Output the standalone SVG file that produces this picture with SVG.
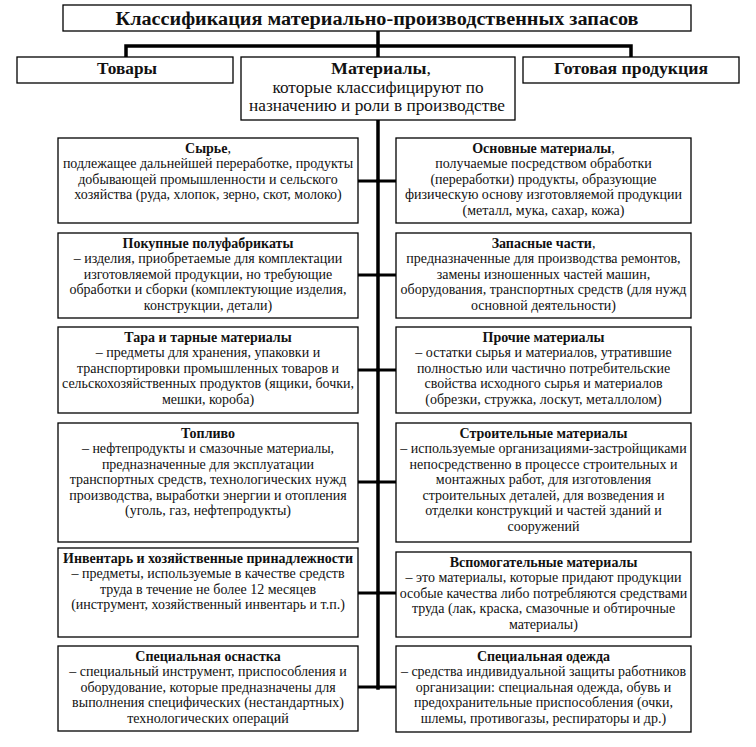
<svg xmlns="http://www.w3.org/2000/svg" width="756" height="747" viewBox="0 0 756 747">
<style>
.box{fill:#fff;stroke:#000;stroke-width:1.3}
.h{font-family:"Liberation Serif","Times New Roman",serif;font-weight:bold;font-size:14px;fill:#111;text-anchor:middle}
.t{font-family:"Liberation Serif","Times New Roman",serif;font-size:14px;fill:#111;text-anchor:middle}
.n{font-weight:normal}
.top{font-size:16px}
.c{stroke:#000;fill:none;stroke-linecap:square}
.thick{stroke-width:3.5}
.br{stroke-width:3}
</style>
<rect width="756" height="747" fill="#fff"/>

<g id="connectors">
  <path class="c thick" d="M378 31V46M126 46H631M126 46V57M631 46V57M378 46V57"/>
  <path class="c thick" d="M378 120V688" stroke-width="4"/>
  <path class="c br" d="M358 181H378M358 275H378M358 370H378M358 482H378M358 593H378M358 687H378"/>
  <path class="c br" d="M378 181H396M378 275H396M378 370H396M378 482H396M378 593H396M378 687H396"/>
</g>

<g id="title">
  <rect class="box" x="63" y="5" width="628" height="26"/>
  <text class="h" x="377" y="25" style="font-size:18px" textLength="523" lengthAdjust="spacingAndGlyphs">Классификация материально-производственных запасов</text>
</g>
<g id="tovary">
  <rect class="box" x="17" y="57" width="216" height="26"/>
  <text class="h top" x="127" y="74" textLength="60" lengthAdjust="spacingAndGlyphs">Товары</text>
</g>
<g id="materialy">
  <rect class="box" x="241" y="57" width="274" height="63"/>
  <text class="h top" x="381" y="74" textLength="100" lengthAdjust="spacingAndGlyphs">Материалы<tspan class="n">,</tspan></text>
  <text class="t top" x="378" y="92.5" textLength="211" lengthAdjust="spacingAndGlyphs">которые классифицируют по</text>
  <text class="t top" x="377" y="111" textLength="256" lengthAdjust="spacingAndGlyphs">назначению и роли в производстве</text>
</g>
<g id="gotovaya">
  <rect class="box" x="523" y="57" width="216" height="26"/>
  <text class="h top" x="631" y="74" textLength="154" lengthAdjust="spacingAndGlyphs">Готовая продукция</text>
</g>

<!-- Left column -->
<g id="syrye">
  <rect class="box" x="58" y="138" width="300" height="85"/>
  <text class="h" x="208" y="152.5">Сырье<tspan class="n">,</tspan></text>
  <text class="t" x="208" y="168">подлежащее дальнейшей переработке, продукты</text>
  <text class="t" x="208" y="183.5">добывающей промышленности и сельского</text>
  <text class="t" x="208" y="199">хозяйства (руда, хлопок, зерно, скот, молоко)</text>
</g>
<g id="pokupnye">
  <rect class="box" x="58" y="233" width="300" height="85"/>
  <text class="h" x="208" y="247.5">Покупные полуфабрикаты</text>
  <text class="t" x="208" y="263">– изделия, приобретаемые для комплектации</text>
  <text class="t" x="208" y="278.5">изготовляемой продукции, но требующие</text>
  <text class="t" x="208" y="294">обработки и сборки (комплектующие изделия,</text>
  <text class="t" x="208" y="309.5">конструкции, детали)</text>
</g>
<g id="tara">
  <rect class="box" x="58" y="327" width="300" height="86"/>
  <text class="h" x="208" y="341.5">Тара и тарные материалы</text>
  <text class="t" x="208" y="357">– предметы для хранения, упаковки и</text>
  <text class="t" x="208" y="372.5">транспортировки промышленных товаров и</text>
  <text class="t" x="208" y="388">сельскохозяйственных продуктов (ящики, бочки,</text>
  <text class="t" x="208" y="403.5">мешки, короба)</text>
</g>
<g id="toplivo">
  <rect class="box" x="58" y="423" width="300" height="119"/>
  <text class="h" x="208" y="437.5">Топливо</text>
  <text class="t" x="208" y="453">– нефтепродукты и смазочные материалы,</text>
  <text class="t" x="208" y="468.5">предназначенные для эксплуатации</text>
  <text class="t" x="208" y="484">транспортных средств, технологических нужд</text>
  <text class="t" x="208" y="499.5">производства, выработки энергии и отопления</text>
  <text class="t" x="208" y="515">(уголь, газ, нефтепродукты)</text>
</g>
<g id="inventar">
  <rect class="box" x="58" y="548" width="300" height="89"/>
  <text class="h" x="208" y="562.5">Инвентарь и хозяйственные принадлежности</text>
  <text class="t" x="208" y="578">– предметы, используемые в качестве средств</text>
  <text class="t" x="208" y="593.5">труда в течение не более 12 месяцев</text>
  <text class="t" x="208" y="609">(инструмент, хозяйственный инвентарь и т.п.)</text>
</g>
<g id="osnastka">
  <rect class="box" x="58" y="646" width="300" height="85"/>
  <text class="h" x="208" y="660.5">Специальная оснастка</text>
  <text class="t" x="208" y="676">– специальный инструмент, приспособления и</text>
  <text class="t" x="208" y="691.5">оборудование, которые предназначены для</text>
  <text class="t" x="208" y="707">выполнения специфических (нестандартных)</text>
  <text class="t" x="208" y="722.5">технологических операций</text>
</g>

<!-- Right column -->
<g id="osnovnye">
  <rect class="box" x="396" y="138" width="295" height="85"/>
  <text class="h" x="543.5" y="152.5">Основные материалы<tspan class="n">,</tspan></text>
  <text class="t" x="543.5" y="168">получаемые посредством обработки</text>
  <text class="t" x="543.5" y="183.5">(переработки) продукты, образующие</text>
  <text class="t" x="543.5" y="199">физическую основу изготовляемой продукции</text>
  <text class="t" x="543.5" y="214.5">(металл, мука, сахар, кожа)</text>
</g>
<g id="zapasnye">
  <rect class="box" x="396" y="233" width="295" height="85"/>
  <text class="h" x="543.5" y="247.5">Запасные части<tspan class="n">,</tspan></text>
  <text class="t" x="543.5" y="263">предназначенные для производства ремонтов,</text>
  <text class="t" x="543.5" y="278.5">замены изношенных частей машин,</text>
  <text class="t" x="543.5" y="294">оборудования, транспортных средств (для нужд</text>
  <text class="t" x="543.5" y="309.5">основной деятельности)</text>
</g>
<g id="prochie">
  <rect class="box" x="396" y="327" width="295" height="86"/>
  <text class="h" x="543.5" y="341.5">Прочие материалы</text>
  <text class="t" x="543.5" y="357">– остатки сырья и материалов, утратившие</text>
  <text class="t" x="543.5" y="372.5">полностью или частично потребительские</text>
  <text class="t" x="543.5" y="388">свойства исходного сырья и материалов</text>
  <text class="t" x="543.5" y="403.5">(обрезки, стружка, лоскут, металлолом)</text>
</g>
<g id="stroitelnye">
  <rect class="box" x="396" y="423" width="295" height="119"/>
  <text class="h" x="543.5" y="437.5">Строительные материалы</text>
  <text class="t" x="543.5" y="453">– используемые организациями-застройщиками</text>
  <text class="t" x="543.5" y="468.5">непосредственно в процессе строительных и</text>
  <text class="t" x="543.5" y="484">монтажных работ, для изготовления</text>
  <text class="t" x="543.5" y="499.5">строительных деталей, для возведения и</text>
  <text class="t" x="543.5" y="515">отделки конструкций и частей зданий и</text>
  <text class="t" x="543.5" y="530.5">сооружений</text>
</g>
<g id="vspomogatelnye">
  <rect class="box" x="396" y="552" width="295" height="85"/>
  <text class="h" x="543.5" y="566.5">Вспомогательные материалы</text>
  <text class="t" x="543.5" y="582">– это материалы, которые придают продукции</text>
  <text class="t" x="543.5" y="597.5">особые качества либо потребляются средствами</text>
  <text class="t" x="543.5" y="613">труда (лак, краска, смазочные и обтирочные</text>
  <text class="t" x="543.5" y="628.5">материалы)</text>
</g>
<g id="odezhda">
  <rect class="box" x="396" y="646" width="295" height="86"/>
  <text class="h" x="543.5" y="660.5">Специальная одежда</text>
  <text class="t" x="543.5" y="676">– средства индивидуальной защиты работников</text>
  <text class="t" x="543.5" y="691.5">организации: специальная одежда, обувь и</text>
  <text class="t" x="543.5" y="707">предохранительные приспособления (очки,</text>
  <text class="t" x="543.5" y="722.5">шлемы, противогазы, респираторы и др.)</text>
</g>
</svg>
